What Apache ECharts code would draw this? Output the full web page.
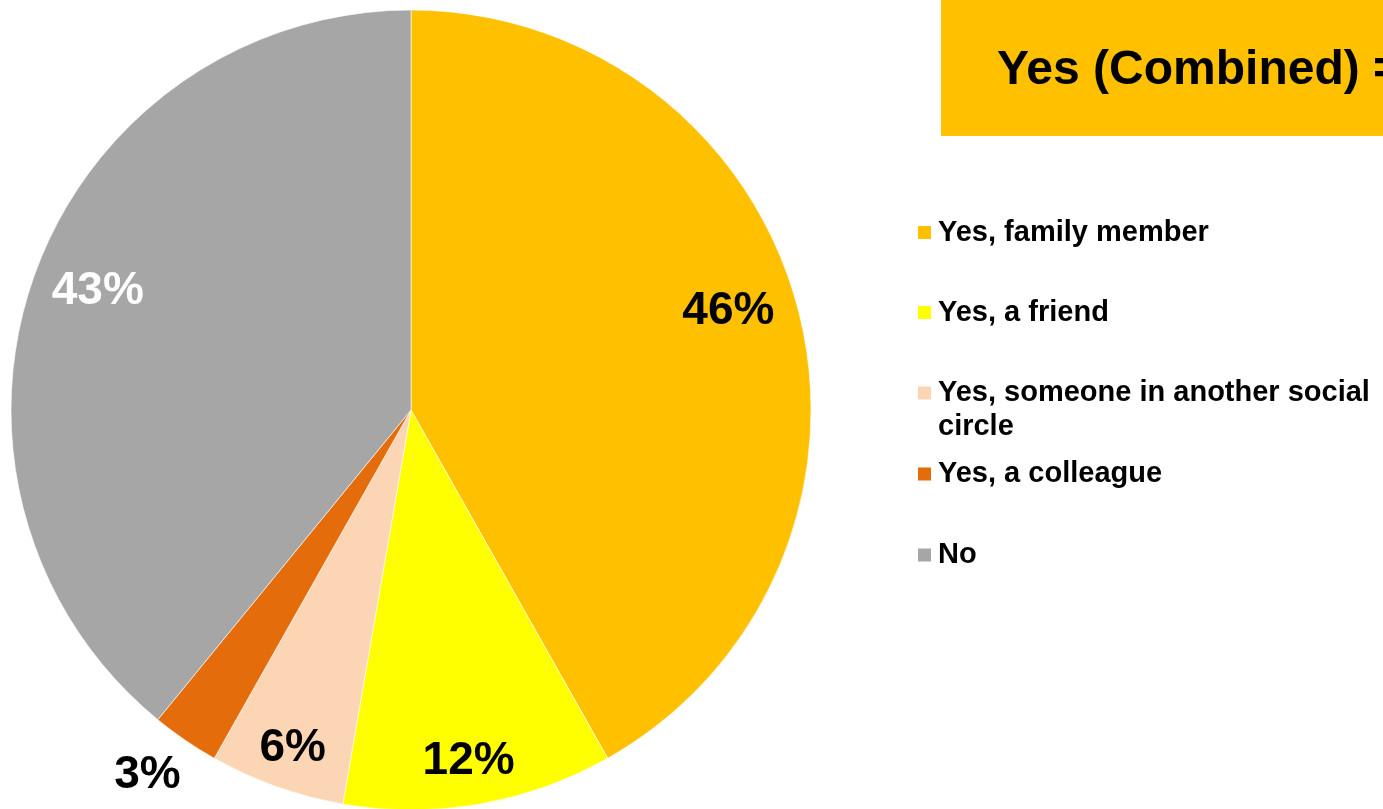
<!DOCTYPE html>
<html>
<head>
<meta charset="utf-8">
<script src="https://cdn.jsdelivr.net/npm/echarts@6/dist/echarts.min.js"></script>
<style>
html,body{margin:0;padding:0;background:#fff;}
#chart{width:1383px;height:809px;}
</style>
</head>
<body>
<div id="chart"></div>
<script>
const categories = ['Yes, family member', 'Yes, a friend', 'Yes, someone in another social circle', 'Yes, a colleague', 'No'];
const values = [46, 12, 6, 3, 43];
const titleText = 'Yes (Combined) =';

const colors = ['#FFC000', '#FFFF00', '#FCD5B5', '#E46C0A', '#A6A6A6'];
const labelColors = ['#000', '#000', '#000', '#000', '#fff'];
const labelOffsets = [[121, -47], [23, 151], [-50, 147], [-149, 198], [-122, -50]];
const legendCenters = [232.5, 312.5, 393, 474, 555];
const FONT = '"Liberation Sans", Arial, sans-serif';

const chart = echarts.init(document.getElementById('chart'));

const legends = categories.map((name, i) => {
  const multi = name === 'Yes, someone in another social circle';
  return {
    data: [name],
    left: 916,
    top: legendCenters[i] - (multi ? 51 : 17),
    padding: 0,
    icon: 'rect',
    itemWidth: 15,
    itemHeight: 15,
    selectedMode: false,
    formatter: multi ? function () { return '\nYes, someone in another social\ncircle'; } : '{name}',
    textStyle: {
      fontFamily: FONT, fontSize: 29, fontWeight: 'bold', color: '#000',
      lineHeight: 34, padding: [0, 0, 0, 1]
    }
  };
});

chart.setOption({
  animation: false,
  backgroundColor: '#fff',
  title: {
    text: titleText,
    left: 941,
    top: 0,
    backgroundColor: '#FFC000',
    padding: [43, 60, 37, 56],
    textStyle: { fontFamily: FONT, fontSize: 48, fontWeight: 'bold', color: '#000', lineHeight: 56 }
  },
  legend: legends,
  series: [{
    type: 'pie',
    center: [411, 410],
    radius: 400,
    startAngle: 90,
    clockwise: true,
    avoidLabelOverlap: false,
    labelLine: { show: false },
    itemStyle: { borderColor: '#fff', borderWidth: 0.6 },
    emphasis: { disabled: true },
    data: categories.map((name, i) => ({
      name: name,
      value: values[i],
      itemStyle: { color: colors[i] },
      label: {
        show: true,
        position: 'inside',
        formatter: '{c}%',
        offset: labelOffsets[i],
        color: labelColors[i],
        fontFamily: FONT,
        fontSize: 46,
        fontWeight: 'bold'
      }
    }))
  }]
});
</script>
</body>
</html>
